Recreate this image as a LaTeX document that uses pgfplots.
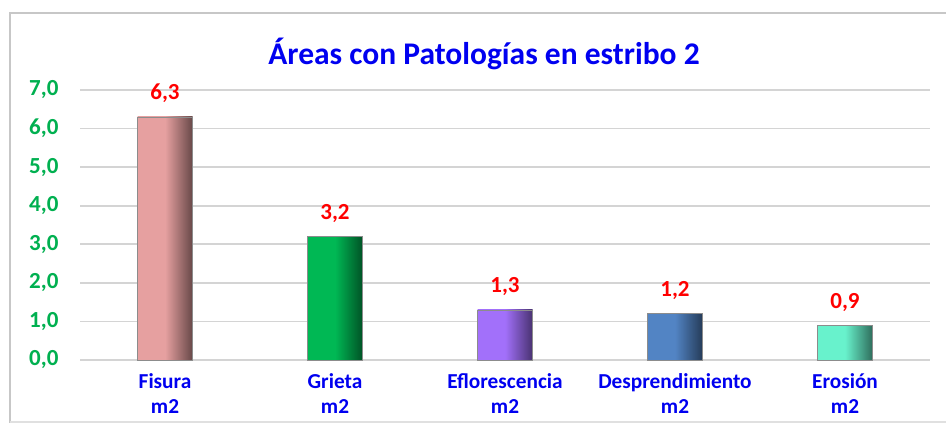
\documentclass[border=0pt]{standalone}
\usepackage{fontspec}
\setmainfont{Carlito}
\usepackage{pgfplots}
\pgfplotsset{compat=1.18}
\definecolor{titleblue}{RGB}{0,0,240}
\definecolor{tickgreen}{RGB}{0,176,80}
\definecolor{labred}{RGB}{255,0,0}
\definecolor{c1}{RGB}{230,160,160}
\definecolor{c2}{RGB}{0,184,84}
\definecolor{c3}{RGB}{162,112,250}
\definecolor{c4}{RGB}{82,132,196}
\definecolor{c5}{RGB}{104,242,204}
\begin{document}
\begin{tikzpicture}[x=1pt,y=1pt]
\useasboundingbox (0,0) rectangle (946,425);
\fill[white] (0,0) rectangle (946,425);
\draw[black!22, line width=2pt] (10,2) -- (10,412) -- (950,412);
\draw[black!12, line width=2pt] (10,3) -- (950,3);
\node[anchor=base, font=\fontsize{31.5}{36}\selectfont\bfseries, text=titleblue] at (484,360) {Áreas con Patologías en estribo 2};
\begin{axis}[
  at={(80pt,65pt)}, anchor=south west,
  scale only axis, width=850pt, height=270pt,
  xmin=-0.5, xmax=4.5, ymin=0, ymax=7,
  ytick={0,1,...,7},
  xtick={0,1,2,3,4},
  xticklabels={Fisura\\m2, Grieta\\m2, Eflorescencia\\m2, Desprendimiento\\m2, Erosión\\m2},
  axis line style={draw=none},
  major tick length=0pt,
  ymajorgrids,
  grid style={black!17, line width=1.6pt},
  /pgf/number format/assume math mode=true,
  yticklabel={\pgfmathprintnumber[fixed, fixed zerofill, precision=1, use comma]{\tick}},
  yticklabel style={font=\fontsize{23}{26}\selectfont\bfseries, text=tickgreen, xshift=-18pt},
  xticklabel style={font=\fontsize{21.3}{25}\selectfont\bfseries, text=titleblue, align=center, yshift=-10pt},
  ybar, bar width=55pt, bar shift=0pt,
  nodes near coords,
  nodes near coords style={font=\fontsize{23}{26}\selectfont\bfseries, text=labred, anchor=base, yshift=17pt,
     /pgf/number format/.cd, fixed, fixed zerofill, precision=1, use comma},
  clip=false,
]
\addplot[draw=black!45, line width=0.6pt, left color=c1, right color=c1!45!black, middle color=c1] coordinates {(0,6.3)};
\addplot[draw=black!45, line width=0.6pt, left color=c2, right color=c2!45!black, middle color=c2] coordinates {(1,3.2)};
\addplot[draw=black!45, line width=0.6pt, left color=c3, right color=c3!45!black, middle color=c3] coordinates {(2,1.3)};
\addplot[draw=black!45, line width=0.6pt, left color=c4, right color=c4!45!black, middle color=c4] coordinates {(3,1.2)};
\addplot[draw=black!45, line width=0.6pt, left color=c5, right color=c5!45!black, middle color=c5] coordinates {(4,0.9)};
\end{axis}
\end{tikzpicture}
\end{document}
